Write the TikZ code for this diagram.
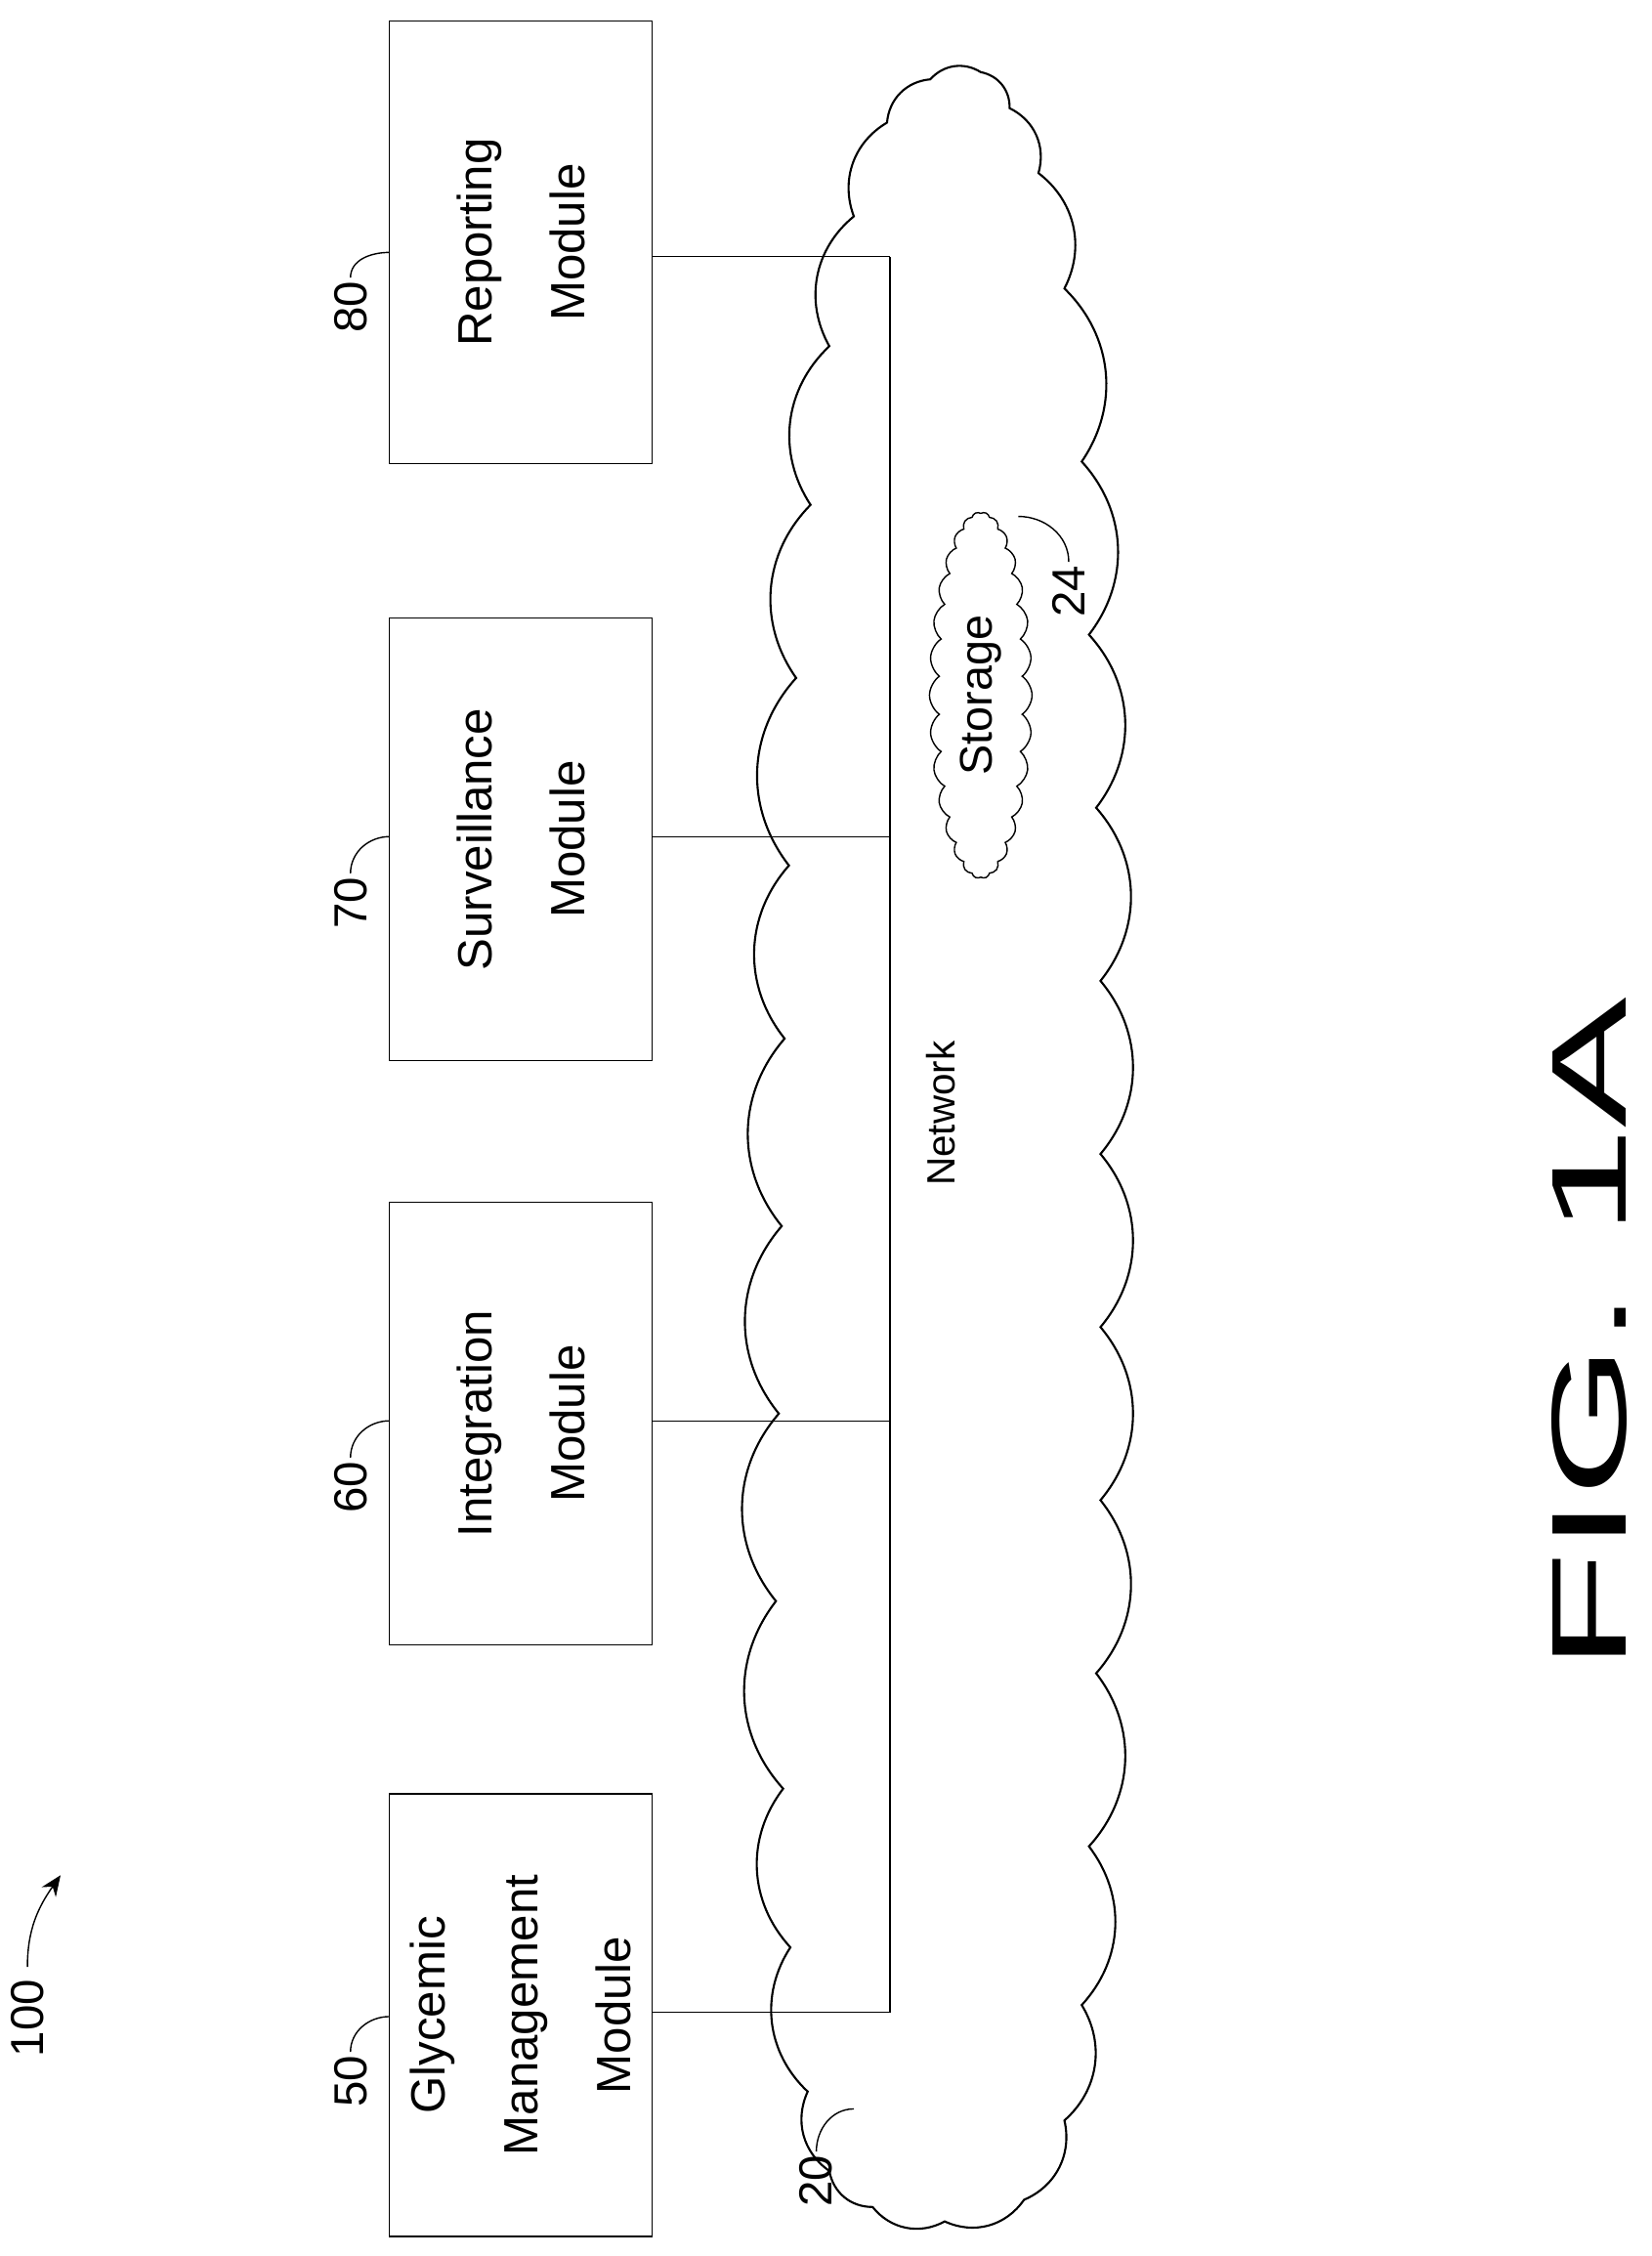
\documentclass[tikz,border=0pt]{standalone}
\usepackage{fontspec}
\setmainfont{Liberation Sans}
\usetikzlibrary{shapes.symbols,arrows.meta}

\tikzset{
  module/.style={draw, thick, rotate=90, align=center, minimum width=9.06cm, minimum height=5.37cm, font=\fontsize{28}{54}\selectfont},
  refnum/.style={rotate=90, font=\fontsize{27}{32}\selectfont, inner sep=2pt},
  puff/.style={bend left=40},
  leader/.style={thick},
  bus/.style={thick}
}

\begin{document}
\begin{tikzpicture}[x=0.02952cm, y=-0.02952cm]
				\useasboundingbox (0,0) rectangle (1145,1564);
				% Network cloud
				\draw[very thick] (605,1530) to[puff] (575,1505) to[puff] (560,1450)
				  to[puff] (548,1350) to[puff] (543,1240) to[puff] (538,1110)
				  to[puff] (540,980) to[puff] (542,850) to[puff] (544,720)
				  to[puff] (547,600) to[puff] (552,470) to[puff] (562,350)
				  to[puff] (575,240) to[puff] (592,150) to[puff] (615,85)
				  to[puff] (645,55) to[puff] (680,50) to[puff] (700,75)
				  to[puff] (720,120) to[puff] (738,200) to[puff] (750,320)
				  to[puff] (755,440) to[puff] (760,560) to[puff] (763,680)
				  to[puff] (763,800) to[puff] (763,920) to[puff] (763,1040)
				  to[puff] (760,1160) to[puff] (755,1280) to[puff] (750,1390)
				  to[puff] (738,1470) to[puff] (710,1525) to[puff] (655,1540)
				  to[puff] cycle;
				\coordinate (net) at (650,795);
				\node[cloud, draw, thick, cloud puffs=30, cloud puff arc=110, cloud ignores aspect, rotate=90, minimum width=7.5cm, minimum height=2.1cm, font=\fontsize{26.6}{32}\selectfont] (store) at (680,482) {Storage};
				\node[rotate=90, font=\fontsize{23}{26}\selectfont] (nettext) at (652,772) {Network};
				
				% Modules
				\node[module] (rep) at (361,168) {Reporting\\Module};
				\node[module] (sur) at (361,582) {Surveillance\\Module};
				\node[module] (int) at (361,987) {Integration\\Module};
				\node[module] (gly) at (361,1397) {Glycemic\\Management\\Module};
				
				% Bus
				\coordinate (b1) at (617,178);
				\coordinate (b2) at (617,580);
				\coordinate (b3) at (617,985);
				\coordinate (b4) at (617,1395);
				\draw[bus] (b1) -- (b4);
				\draw[bus] (rep.south |- b1) -- (b1);
				\draw[bus] (sur.south |- b2) -- (b2);
				\draw[bus] (int.south |- b3) -- (b3);
				\draw[bus] (gly.south |- b4) -- (b4);
				
				% Reference numerals
				\node[refnum] (l80) at (243,213) {80};
				\node[refnum] (l70) at (243,626) {70};
				\node[refnum] (l60) at (243,1031) {60};
				\node[refnum] (l50) at (243,1443) {50};
				\node[refnum] (l20) at (566,1512) {20};
				\node[refnum] (l24) at (741,410) {24};
				\node[refnum] (l100) at (19,1399) {100};
				\coordinate (c80) at (270,175);
				\coordinate (c70) at (270,580);
				\coordinate (c60) at (270,985);
				\coordinate (c50) at (270,1398);
				\coordinate (c20) at (592,1462);
				\coordinate (c24) at (706,358);
				\coordinate (c100) at (42,1300);
				\draw[leader] (l80.east) to[out=90, in=180] (c80);
				\draw[leader] (l70.east) to[out=90, in=180] (c70);
				\draw[leader] (l60.east) to[out=90, in=180] (c60);
				\draw[leader] (l50.east) to[out=90, in=180] (c50);
				\draw[leader] (l20.east) to[out=90, in=180] (c20);
				\draw[leader] (l24.east) to[out=90, in=0] (c24);
				\draw[leader, -{Stealth[length=12pt, width=10pt]}] (l100.east) ++(0,-6) to[out=90, in=235] (c100);
				
				\node[rotate=90, font=\fontsize{62}{70}\selectfont] (fig) at (1102,925) {\scalebox{1.84}[1]{FIG. 1A}};
			\end{tikzpicture}
\end{document}
